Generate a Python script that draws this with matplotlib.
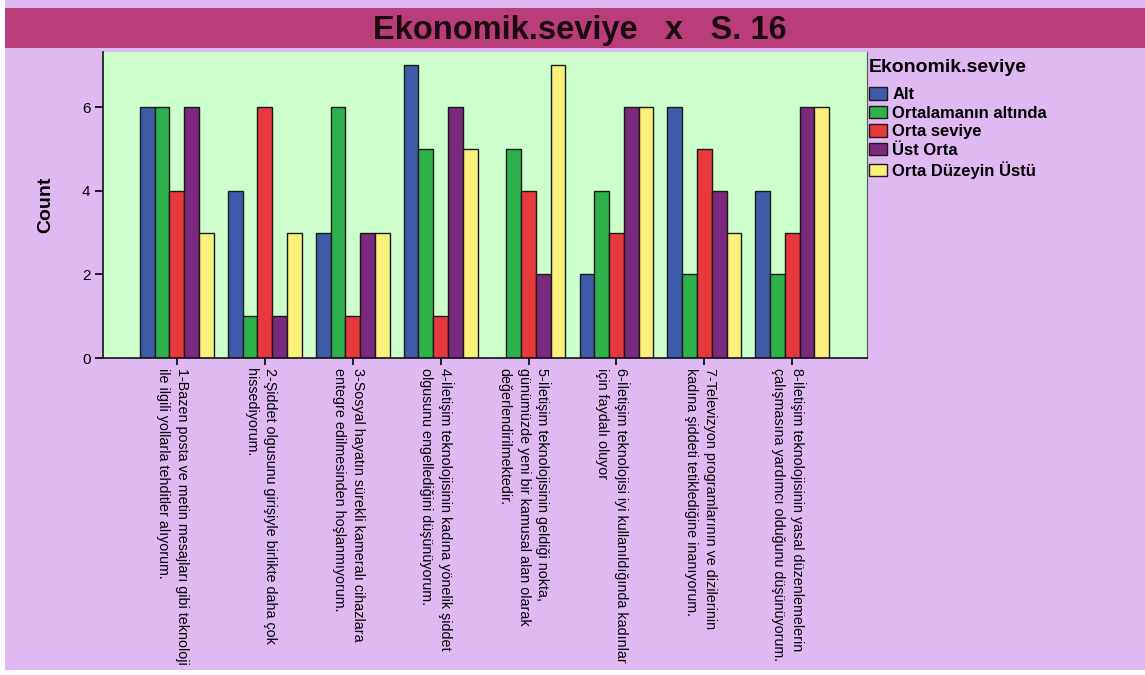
import numpy as np
import matplotlib
matplotlib.use('Agg')
import matplotlib.pyplot as plt
import matplotlib.transforms as mtransforms
from matplotlib.patches import Rectangle

plt.rcParams['font.family'] = ['Liberation Sans', 'DejaVu Sans']

# ── Data ──────────────────────────────────────────────────────────
questions = [
    "1-Bazen posta ve metin mesajları gibi teknoloji\nile ilgili yollarla tehditler alıyorum.",
    "2-Şiddet olgusunu girişiyle birlikte daha çok\nhissediyorum.",
    "3-Sosyal hayatın sürekli kameralı cihazlara\nentegre edilmesinden hoşlanmıyorum.",
    "4-İletişim teknolojisinin kadına yönelik şiddet\nolgusunu engellediğini düşünüyorum.",
    "5-İletişim teknolojisinin geldiği nokta,\ngünümüzde yeni bir kamusal alan olarak\ndeğerlendirilmektedir.",
    "6-İletişim teknolojisi iyi kullanıldığında kadınlar\niçin faydalı oluyor",
    "7-Televizyon programlarının ve dizilerinin\nkadına şiddeti tetiklediğine inanıyorum.",
    "8-İletişim teknolojisinin yasal düzenlemelerin\nçalışmasına yardımcı olduğunu düşünüyorum.",
]
levels = ['Alt', 'Ortalamanın altında', 'Orta seviye', 'Üst Orta', 'Orta Düzeyin Üstü']
alt = [6, 4, 3, 7, 0, 2, 6, 4]
ortalama_alti = [6, 1, 6, 5, 5, 4, 2, 2]
orta = [4, 6, 1, 1, 4, 3, 5, 3]
ust_orta = [6, 1, 3, 6, 2, 6, 4, 6]
orta_ustu = [3, 3, 3, 5, 7, 6, 3, 6]
counts = [alt, ortalama_alti, orta, ust_orta, orta_ustu]
colors = ['#3c5ba8', '#2eb04a', '#e8383b', '#7b2a7e', '#f8f07a']

# ── Figure ────────────────────────────────────────────────────────
W, H = 1145, 675
fig = plt.figure(figsize=(W / 100, H / 100), dpi=100, facecolor='white')

# lavender page and title band
fig.patches.append(Rectangle((5 / W, 1 - 670 / H), 1 - 5 / W, 670 / H,
                             transform=fig.transFigure, facecolor='#dfb9f2',
                             edgecolor='none', zorder=-2))
fig.patches.append(Rectangle((5 / W, 1 - 48 / H), 1 - 5 / W, 40 / H,
                             transform=fig.transFigure, facecolor='#b93d79',
                             edgecolor='none', zorder=-1))
fig.text(580 / W, 1 - 31 / H, 'Ekonomik.seviye   x   S. 16', ha='center', va='center',
         fontsize=23.5, fontweight='bold', color='#1a0a10')

ax = fig.add_axes([103 / W, 1 - 358 / H, (867 - 103) / W, (358 - 52) / H])
ax.set_facecolor('#ccffcc')

x = np.arange(len(questions))
w = 0.168
for i, (vals, lab, col) in enumerate(zip(counts, levels, colors)):
    ax.bar(x + (i - 2) * w, vals, width=w, color=col, edgecolor='#1a1a1a',
           linewidth=1, label=lab)

ax.set_xlim(-0.84, 7.85)
ax.set_ylim(0, 7.32)
ax.set_yticks([0, 2, 4, 6])
ax.tick_params(axis='y', direction='out', length=6, width=1.2, labelsize=11, pad=3)
ax.tick_params(axis='x', direction='out', length=5, width=1.2, pad=2)
ax.set_xticks(x)
ax.set_xticklabels(questions, rotation=-90, ha='center', va='top',
                   multialignment='left', fontsize=10.3, linespacing=1.45)
# SPSS puts the label block a few pixels left of the tick
offset = mtransforms.ScaledTranslation(-4 / 100, 0, fig.dpi_scale_trans)
for lbl in ax.get_xticklabels():
    lbl.set_transform(lbl.get_transform() + offset)

ax.spines['top'].set_visible(False)
ax.spines['right'].set_color('#555555')
for s in ['left', 'bottom']:
    ax.spines[s].set_linewidth(1.2)
    ax.spines[s].set_color('#111111')

ax.set_ylabel('Count', fontsize=14, fontweight='bold')
ax.yaxis.set_label_coords(-0.064, 0.5)

leg = ax.legend(loc='upper left', bbox_to_anchor=(869 / W, 1 - 59 / H),
                bbox_transform=fig.transFigure, frameon=False,
                title='Ekonomik.seviye', alignment='left',
                prop={'weight': 'bold', 'size': 12},
                title_fontproperties={'weight': 'bold', 'size': 14},
                handlelength=1.1, handleheight=0.8, handletextpad=0.3,
                labelspacing=0.2, borderpad=0, borderaxespad=0)
leg._legend_box.sep = 8

fig.savefig('out.png', dpi=100, facecolor=fig.get_facecolor())
